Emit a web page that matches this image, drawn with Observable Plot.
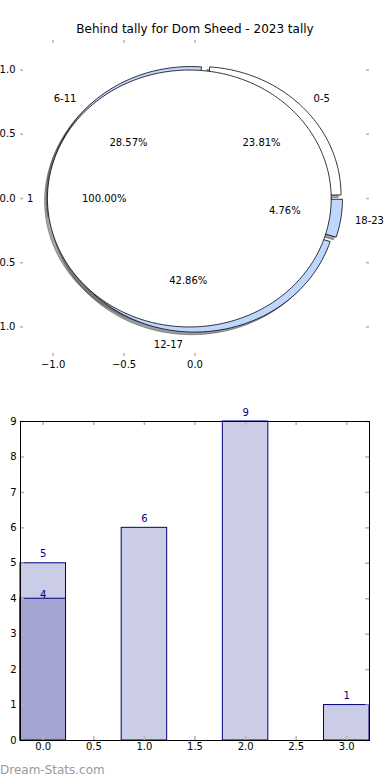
<!DOCTYPE html>
<html><head><meta charset="utf-8">
<script src="https://cdn.jsdelivr.net/npm/d3@7"></script>
<script src="https://cdn.jsdelivr.net/npm/@observablehq/plot@0.6"></script>
<style>
body{margin:0;background:#fff;font-family:"DejaVu Sans",sans-serif;}
#wrap{position:relative;width:390px;height:780px;overflow:hidden;background:#fff;}
#title{position:absolute;top:22px;left:0;width:390px;text-align:center;font-size:12px;line-height:14px;color:#000;}
#pie{position:absolute;top:0;left:0;}
#bars{position:absolute;top:390px;left:0;}
#wm{position:absolute;left:0;top:763px;font-size:12px;line-height:14px;color:#9a9a9a;}
</style></head><body>
<div id="wrap"><div id="pie"></div><div id="title">Behind tally for Dom Sheed - 2023 tally</div><div id="bars"></div><div id="wm">Dream-Stats.com</div></div>
<script>
// ---- data ----
const intervals = ["0-5", "6-11", "12-17", "18-23"];
const behindCounts = [5, 6, 9, 1];
const ringColors = ["#ffffff", "#bfd7fe", "#bfd7fe", "#bfd7fe"];
const innerLabels = ["1"];
const innerCounts = [21];
const innerColors = ["#ffffff"];
const barX = [0, 1, 2, 3];
const barValues = [5, 6, 9, 1];
const overlayX = [0];
const overlayValues = [4];
const pieTicksX = [-1, -0.5, 0];
const pieTicksY = [-1, -0.5, 0, 0.5, 1];
const barTicksX = [0, 0.5, 1, 1.5, 2, 2.5, 3];
const barTicksY = [0, 1, 2, 3, 4, 5, 6, 7, 8, 9];

// ---- pie geometry (from values) ----
const EXPLODE = 0.04, RADIUS = 1, SH = -0.02;
function pieWedges(values, labels, colors, start) {
  const total = d3.sum(values);
  let a = start;
  return values.map((v, i) => {
    const t1 = a, t2 = a + 360 * v / total; a = t2;
    const mid = (t1 + t2) / 2 * Math.PI / 180;
    return {id: labels[i], label: labels[i], color: colors[i], t1, t2, mid,
      cx: EXPLODE * Math.cos(mid), cy: EXPLODE * Math.sin(mid), frac: v / total};
  });
}
function wedgePoints(w, prefix, dx, dy) {
  const full = Math.abs(w.t2 - w.t1 - 360) < 1e-9;
  const id = prefix + w.id;
  const pts = [];
  const cx = w.cx + dx, cy = w.cy + dy;
  if (!full) pts.push({id, x: cx, y: cy, w});
  const n = Math.max(4, Math.ceil(w.t2 - w.t1));
  for (let k = 0; k <= n; k++) {
    const t = (w.t1 + (w.t2 - w.t1) * k / n) * Math.PI / 180;
    pts.push({id, x: cx + RADIUS * Math.cos(t), y: cy + RADIUS * Math.sin(t), w});
  }
  if (!full) pts.push({id, x: cx, y: cy, w});
  return pts;
}
const outer = pieWedges(behindCounts, intervals, ringColors, 0);
const inner = pieWedges(innerCounts, innerLabels, innerColors, 0);
const shadowCol = c => { const r = d3.rgb(c); return d3.rgb(r.r * 0.3, r.g * 0.3, r.b * 0.3).formatHex(); };
const shadowPts = [...outer, ...inner].flatMap((w, i) => wedgePoints(w, "s" + i, SH, SH));
const outerPts = outer.flatMap(w => wedgePoints(w, "o", 0, 0));
const innerPts = inner.flatMap(w => wedgePoints(w, "i", 0, 0));
const labelPos = [...outer, ...inner].map(w => ({
  label: w.label,
  x: w.cx + 1.1 * RADIUS * Math.cos(w.mid), y: w.cy + 1.1 * RADIUS * Math.sin(w.mid),
  px: w.cx + 0.6 * RADIUS * Math.cos(w.mid), py: w.cy + 0.6 * RADIUS * Math.sin(w.mid),
  pct: d3.format(".2f")(w.frac * 100) + "%"
}));
const f1 = d3.format(".1f");
const font = {fontFamily: "DejaVu Sans", fontSize: "10px", background: "white"};

const pieW = 390, pieH = 380, pL = 20, pR = 21, pT = 40, pB = 24;
const pIW = pieW - pL - pR, pIH = pieH - pT - pB;
const tickCol = "#b4b4b4";
const pie = Plot.plot({
  width: pieW, height: pieH, marginLeft: pL, marginRight: pR, marginTop: pT, marginBottom: pB,
  x: {domain: [-1.23, 1.23]}, y: {domain: [-1.23, 1.23]},
  color: {type: "identity"},
  style: font,
  marks: [
    Plot.line(shadowPts, {x: "x", y: "y", z: "id", curve: "linear", fill: d => shadowCol(d.w.color), fillOpacity: 0.5, stroke: d => shadowCol(d.w.color), strokeOpacity: 0.5, strokeWidth: 1}),
    Plot.line(outerPts, {x: "x", y: "y", z: "id", curve: "linear", fill: d => d.w.color, stroke: "black", strokeWidth: 0.8}),
    Plot.line(innerPts, {x: "x", y: "y", z: "id", curve: "linear", fill: d => d.w.color, stroke: "black", strokeWidth: 0.8}),
    Plot.text(labelPos, {x: "px", y: "py", text: "pct", fill: "black", fontSize: 10}),
    Plot.text(labelPos.filter(d => d.x > 0), {x: "x", y: "y", text: "label", textAnchor: "start", fill: "black", fontSize: 10}),
    Plot.text(labelPos.filter(d => d.x <= 0), {x: "x", y: "y", text: "label", textAnchor: "end", fill: "black", fontSize: 10}),
    Plot.tickY(pieTicksY, {y: d => d, stroke: tickCol, strokeWidth: 1.5, insetRight: pIW - 3}),
    Plot.tickY(pieTicksY, {y: d => d, stroke: tickCol, strokeWidth: 1.5, insetLeft: pIW - 3}),
    Plot.tickX(pieTicksX, {x: d => d, stroke: tickCol, strokeWidth: 1.5, insetBottom: pIH - 3}),
    Plot.tickX(pieTicksX, {x: d => d, stroke: tickCol, strokeWidth: 1.5, insetTop: pIH - 3}),
    Plot.axisY(pieTicksY, {anchor: "left", tickSize: 0, tickPadding: 5, tickFormat: f1, fontSize: 10, label: null}),
    Plot.axisX(pieTicksX, {anchor: "bottom", tickSize: 0, tickPadding: 4, tickFormat: f1, fontSize: 10, label: null})
  ]
});
document.getElementById("pie").append(pie);

// ---- bar chart ----
const BW = 0.45;
const barW = 390, barH = 390, bL = 20, bR = 21, bT = 31, bB = 40;
const bIW = barW - bL - bR, bIH = barH - bT - bB;
const bars = barX.map((x, i) => ({x, v: barValues[i]}));
const over = overlayX.map((x, i) => ({x, v: overlayValues[i]}));
const navy = "#000080";
const barChart = Plot.plot({
  width: barW, height: barH, marginLeft: bL, marginRight: bR, marginTop: bT, marginBottom: bB,
  x: {domain: [barX[0] - BW / 2, barX[barX.length - 1] + BW / 2], label: null},
  y: {domain: [0, 9], label: null},
  style: font,
  marks: [
    Plot.rect(bars, {x1: d => d.x - BW / 2, x2: d => d.x + BW / 2, y1: 0, y2: "v", fill: "#cbcce6", stroke: navy, strokeWidth: 1}),
    Plot.rect(over, {x1: d => d.x - BW / 2, x2: d => d.x + BW / 2, y1: 0, y2: "v", fill: "#a3a4d1", stroke: navy, strokeWidth: 1}),
    Plot.text(bars, {x: "x", y: "v", text: d => String(d.v), dy: -9, fill: navy, fontSize: 10}),
    Plot.text(over, {x: "x", y: "v", text: d => String(d.v), dy: -4, fill: navy, fontSize: 10}),
    Plot.tickY(barTicksY, {y: d => d, stroke: tickCol, strokeWidth: 1.5, insetRight: bIW - 4}),
    Plot.tickY(barTicksY, {y: d => d, stroke: tickCol, strokeWidth: 1.5, insetLeft: bIW - 4}),
    Plot.tickX(barTicksX, {x: d => d, stroke: tickCol, strokeWidth: 1.5, insetBottom: bIH - 4}),
    Plot.tickX(barTicksX, {x: d => d, stroke: tickCol, strokeWidth: 1.5, insetTop: bIH - 4}),
    Plot.frame({stroke: "black", strokeWidth: 1}),
    Plot.axisY(barTicksY, {anchor: "left", tickSize: 0, tickPadding: 4, tickFormat: d3.format("d"), fontSize: 10, label: null}),
    Plot.axisX(barTicksX, {anchor: "bottom", tickSize: 0, tickPadding: 2, tickFormat: f1, fontSize: 10, label: null})
  ]
});
document.getElementById("bars").append(barChart);
</script>
</body></html>
